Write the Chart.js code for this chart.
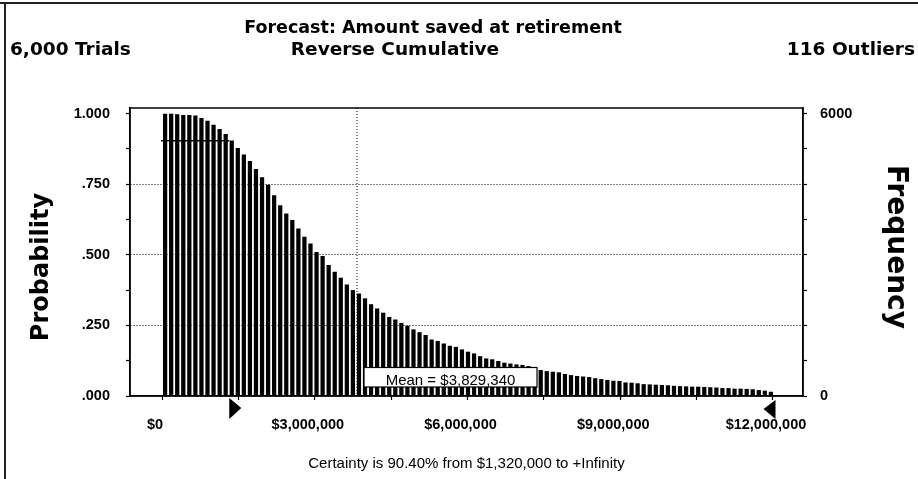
<!DOCTYPE html>
<html>
<head>
<meta charset="utf-8">
<script src="https://cdn.jsdelivr.net/npm/chart.js@4.4.1/dist/chart.umd.min.js"></script>
<style>
    html, body { margin: 0; padding: 0; background: #fff; }
    #wrap { width: 918px; height: 479px; }
</style>
</head>
<body>
<div id="wrap"><canvas id="forecastChart" width="918" height="479"></canvas></div>
<script>
// Forecast summary
const chartTitle = 'Forecast: Amount saved at retirement';
const viewName = 'Reverse Cumulative';
const trials = 6000;
const outliers = 116;
const meanValue = 3829340;
const certaintyPct = 90.40;
const certaintyMin = 1320000;
const displayEnd = 12050000;

// Histogram groups (width of each group, in dollars)
const binWidth = 119000;

// Reverse cumulative probability per group
const probabilities = [
    1.000, 1.000, 0.998, 0.995, 0.995, 0.993, 0.985, 0.975, 0.961, 0.946,
    0.928, 0.905, 0.878, 0.855, 0.832, 0.804, 0.775, 0.748, 0.711, 0.676,
    0.646, 0.623, 0.593, 0.564, 0.540, 0.510, 0.496, 0.464, 0.440, 0.419,
    0.395, 0.375, 0.363, 0.346, 0.325, 0.310, 0.295, 0.280, 0.271, 0.259,
    0.249, 0.236, 0.226, 0.216, 0.200, 0.195, 0.186, 0.178, 0.174, 0.165,
    0.157, 0.151, 0.141, 0.133, 0.130, 0.124, 0.118, 0.115, 0.112, 0.110,
    0.106, 0.102, 0.092, 0.088, 0.086, 0.084, 0.078, 0.074, 0.071, 0.069,
    0.067, 0.063, 0.060, 0.057, 0.054, 0.053, 0.048, 0.047, 0.045, 0.042,
    0.041, 0.040, 0.039, 0.038, 0.036, 0.035, 0.034, 0.033, 0.033, 0.032,
    0.031, 0.030, 0.028, 0.028, 0.026, 0.026, 0.025, 0.024, 0.021, 0.019,
    0.015
];

// Axis ticks
const probTicks = [0, 0.125, 0.25, 0.375, 0.5, 0.625, 0.75, 0.875, 1];
const probLabelTicks = [0, 0.25, 0.5, 0.75, 1];
const probGridLines = [0.25, 0.5, 0.75];
const freqTicks = [0, 750, 1500, 2250, 3000, 3750, 4500, 5250, 6000];
const dollarTicks = [0, 1500000, 3000000, 4500000, 6000000, 7500000, 9000000, 10500000, 12000000];
const dollarLabelTicks = [0, 3000000, 6000000, 9000000, 12000000];

const yMax = 1.02;
const xMin = -630000;
const xMax = 12590000;

function fmtDollar(v) {
    return '$' + String(Math.round(v)).replace(/\B(?=(\d{3})+(?!\d))/g, ',');
}

function fmtProb(v) {
    return v >= 1 ? v.toFixed(3) : v.toFixed(3).replace(/^0/, '');
}

const boldText = 'bold {s}px "DejaVu Sans", sans-serif';
const font = (s, bold) => (bold ? 'bold ' : '') + s + 'px "Liberation Sans", Arial, sans-serif';

const extrasPlugin = {
    id: 'crystalExtras',
    beforeDatasetsDraw(chart) {
        // mean line behind the bars
        const {ctx, chartArea, scales} = chart;
        const mx = scales.x.getPixelForValue(meanValue);
        ctx.save();
        ctx.strokeStyle = '#000';
        ctx.lineWidth = 1;
        ctx.setLineDash([1, 2]);
        ctx.beginPath();
        ctx.moveTo(mx, chartArea.top);
        ctx.lineTo(mx, chartArea.bottom);
        ctx.stroke();
        ctx.restore();
    },
    afterDatasetsDraw(chart) {
        const {ctx, scales} = chart;
        const x = scales.x, y = scales.y;
        const zero = y.getPixelForValue(0);

        // certainty level line
        ctx.save();
        ctx.strokeStyle = '#000';
        ctx.lineWidth = 1.5;
        const cy = y.getPixelForValue(certaintyPct / 100);
        ctx.beginPath();
        ctx.moveTo(x.getPixelForValue(0) - 1, cy);
        ctx.lineTo(x.getPixelForValue(certaintyMin), cy);
        ctx.stroke();

        // mean label box
        const mx = x.getPixelForValue(meanValue);
        const bx = mx + 7, bw = 173, bTop = zero - 28.5, bBottom = zero - 9;
        ctx.fillStyle = '#fff';
        ctx.fillRect(bx, bTop, bw, bBottom - bTop);
        ctx.lineWidth = 1.2;
        ctx.strokeRect(bx, bTop, bw, bBottom - bTop);
        ctx.fillStyle = '#000';
        ctx.font = font(15, false);
        ctx.textAlign = 'center';
        ctx.textBaseline = 'alphabetic';
        ctx.fillText('Mean = ' + fmtDollar(meanValue), bx + bw / 2, bBottom - 2.5);
        ctx.restore();
    },
    afterDraw(chart) {
        const {ctx, chartArea, scales} = chart;
        const x = scales.x;
        const zero = scales.y.getPixelForValue(0);
        ctx.save();

        // plot frame
        ctx.strokeStyle = '#000';
        ctx.lineWidth = 1.5;
        ctx.strokeRect(chartArea.left, chartArea.top, chartArea.right - chartArea.left, chartArea.bottom - chartArea.top);

        // outer frame (top and left edges of the scanned window)
        ctx.lineWidth = 2;
        ctx.strokeStyle = '#222';
        ctx.beginPath();
        ctx.moveTo(0, 3);
        ctx.lineTo(918, 3);
        ctx.moveTo(5, 3);
        ctx.lineTo(5, 479);
        ctx.stroke();

        // range grabbers
        ctx.fillStyle = '#000';
        const lx = x.getPixelForValue(certaintyMin);
        ctx.beginPath();
        ctx.moveTo(lx, zero + 2);
        ctx.lineTo(lx + 12, zero + 12);
        ctx.lineTo(lx, zero + 23);
        ctx.closePath();
        ctx.fill();
        const rx = x.getPixelForValue(displayEnd);
        ctx.beginPath();
        ctx.moveTo(rx, zero + 4);
        ctx.lineTo(rx - 12, zero + 13);
        ctx.lineTo(rx, zero + 23);
        ctx.closePath();
        ctx.fill();

        // header texts
        ctx.textBaseline = 'alphabetic';
        ctx.font = boldText.replace('{s}', 17.5);
        ctx.textAlign = 'center';
        ctx.fillText(chartTitle, 433, 33);
        ctx.font = boldText.replace('{s}', 18.5);
        ctx.textAlign = 'left';
        ctx.fillText(trials.toLocaleString('en-US') + ' Trials', 10, 55);
        ctx.textAlign = 'center';
        ctx.fillText(viewName, 395, 55);
        ctx.textAlign = 'right';
        ctx.fillText(outliers + ' Outliers', 915, 55);

        // axis titles
        ctx.textAlign = 'center';
        ctx.save();
        ctx.font = boldText.replace('{s}', 24);
        ctx.translate(48, 267);
        ctx.rotate(-Math.PI / 2);
        ctx.fillText('Probability', 0, 0);
        ctx.restore();
        ctx.save();
        ctx.font = boldText.replace('{s}', 28);
        ctx.translate(888, 247);
        ctx.rotate(Math.PI / 2);
        ctx.fillText('Frequency', 0, 0);
        ctx.restore();

        ctx.restore();
    }
};

const ctx = document.getElementById('forecastChart');

new Chart(ctx, {
    type: 'bar',
    data: {
        datasets: [{
            label: 'Probability',
            data: probabilities.map((p, i) => ({ x: (i + 0.5) * binWidth, y: p })),
            backgroundColor: '#000',
            borderWidth: 0,
            categoryPercentage: 1,
            barPercentage: 0.7,
            xAxisID: 'x',
            yAxisID: 'y'
        }]
    },
    options: {
        responsive: false,
        animation: false,
        devicePixelRatio: 1,
        layout: { padding: { top: 108, left: 0, right: 0, bottom: 0 } },
        plugins: {
            legend: { display: false },
            tooltip: { enabled: false }
        },
        scales: {
            x: {
                type: 'linear',
                min: xMin,
                max: xMax,
                offset: false,
                afterBuildTicks: (axis) => { axis.ticks = dollarTicks.map(v => ({ value: v })); },
                afterFit: (axis) => { axis.height = 83; },
                ticks: {
                    color: '#000',
                    font: { family: '"Liberation Sans", Arial, sans-serif', size: 14.5, weight: 'bold' },
                    padding: 16,
                    labelOffset: -7,
                    maxRotation: 0,
                    autoSkip: false,
                    callback: (v) => dollarLabelTicks.includes(v) ? fmtDollar(v) : ''
                },
                grid: {
                    offset: false,
                    drawOnChartArea: false,
                    drawTicks: true,
                    tickLength: 4,
                    tickColor: '#000',
                    tickWidth: 1.2,
                    color: '#000'
                },
                border: { display: true, color: '#000', width: 1.5 },
                title: {
                    display: true,
                    text: 'Certainty is ' + certaintyPct.toFixed(2) + '% from ' + fmtDollar(certaintyMin) + ' to +Infinity',
                    color: '#000',
                    font: { family: '"Liberation Sans", Arial, sans-serif', size: 15 },
                    padding: { top: 0, bottom: 6 }
                }
            },
            y: {
                position: 'left',
                min: 0,
                max: yMax,
                afterBuildTicks: (axis) => { axis.ticks = probTicks.map(v => ({ value: v })); },
                afterFit: (axis) => { axis.width = 130; },
                ticks: {
                    color: '#000',
                    font: { family: '"Liberation Sans", Arial, sans-serif', size: 14.5, weight: 'bold' },
                    padding: 16,
                    autoSkip: false,
                    callback: (v) => probLabelTicks.includes(v) ? fmtProb(v) : ''
                },
                grid: {
                    drawTicks: true,
                    tickLength: 4,
                    tickColor: '#000',
                    tickWidth: 1.2,
                    lineWidth: 1,
                    color: (c) => (c.tick && probGridLines.includes(c.tick.value)) ? '#000' : 'rgba(0,0,0,0)'
                },
                border: { display: true, color: '#000', width: 1.5, dash: [1, 2] }
            },
            y1: {
                position: 'right',
                min: 0,
                max: trials * yMax,
                afterBuildTicks: (axis) => { axis.ticks = freqTicks.map(v => ({ value: v })); },
                afterFit: (axis) => { axis.width = 115; },
                ticks: {
                    color: '#000',
                    font: { family: '"Liberation Sans", Arial, sans-serif', size: 14.5, weight: 'bold' },
                    padding: 13,
                    autoSkip: false,
                    callback: (v) => (v === 0 || v === trials) ? String(v) : ''
                },
                grid: {
                    drawOnChartArea: false,
                    drawTicks: true,
                    tickLength: 4,
                    tickColor: '#000',
                    tickWidth: 1.2
                },
                border: { display: true, color: '#000', width: 1.5 }
            }
        }
    },
    plugins: [extrasPlugin]
});
</script>
</body>
</html>
